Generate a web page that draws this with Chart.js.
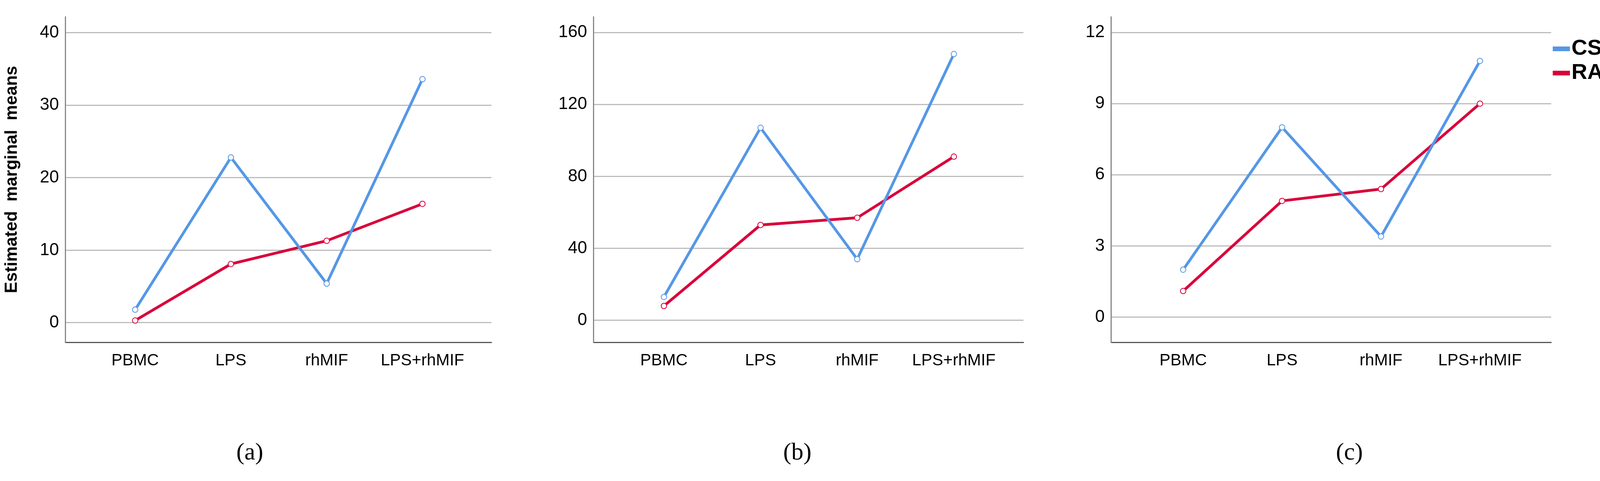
<!DOCTYPE html>
<html>
<head>
<meta charset="utf-8">
<script src="https://cdn.jsdelivr.net/npm/chart.js@4"></script>
<style>
  body { margin:0; width:4128px; height:1231px; background:#fff; position:relative; overflow:hidden; font-family:"Liberation Sans", Arial, sans-serif; }
  .box { position:absolute; top:0; height:1000px; }
  .cap { position:absolute; top:1120px; font-family:"Liberation Serif", serif; font-size:62px; color:#000; }
  .leg { position:absolute; left:3975px; font-size:56px; font-weight:bold; font-family:"Liberation Sans Narrow","Liberation Sans",sans-serif; }
  .leg span { display:inline-block; width:44px; height:12px; vertical-align:middle; margin-right:4px; }
</style>
</head>
<body>
<div class="box" style="left:0;width:1275px"><canvas id="ga"></canvas></div>
<div class="box" style="left:1399px;width:1238px"><canvas id="gb"></canvas></div>
<div class="box" style="left:2724px;width:1264px"><canvas id="gc"></canvas></div>
<div class="cap" style="left:605px">(a)</div>
<div class="cap" style="left:2005px">(b)</div>
<div class="cap" style="left:3420px">(c)</div>
<div class="leg" style="top:88px"><span style="background:#5597e6"></span>CS</div>
<div class="leg" style="top:150px"><span style="background:#d9003a"></span>RA</div>
<script>
// datos
const categorias = ['PBMC', 'LPS', 'rhMIF', 'LPS+rhMIF'];
const csA = [1.8, 22.8, 5.4, 33.6];
const raA = [0.3, 8.1, 11.3, 16.4];
const csB = [13, 107, 34, 148];
const raB = [8, 53, 57, 91];
const csC = [2.0, 8.0, 3.4, 10.8];
const raC = [1.1, 4.9, 5.4, 9.0];

const azul = '#5597e6';
const rojo = '#d9003a';

function puntos(vals) {
    return vals.map((v, i) => ({ x: i, y: v }));
}

function grafica(id, cs, ra, yMin, yMax, paso, ejeAncho, titulo) {
    const ctx = document.getElementById(id).getContext('2d');
    const serie = (label, vals, color) => ({
        label: label,
        data: puntos(vals),
        borderColor: color,
        backgroundColor: '#fff',
        borderWidth: 7,
        pointRadius: 7,
        pointBorderWidth: 2,
        tension: 0
    });
    new Chart(ctx, {
        type: 'line',
        data: { datasets: [serie('CS', cs, azul), serie('RA', ra, rojo)] },
        options: {
            responsive: true,
            maintainAspectRatio: false,
            animation: false,
            layout: { padding: { top: 43, right: 17 } },
            plugins: { legend: { display: false }, tooltip: { enabled: false } },
            scales: {
                x: {
                    type: 'linear', min: -0.73, max: 3.72,
                    afterBuildTicks: s => { s.ticks = categorias.map((c, i) => ({ value: i })); },
                    afterFit: s => { s.height = 124; },
                    ticks: { callback: v => categorias[v], color: '#000', padding: 14,
                             font: { size: 42, family: "'Liberation Sans', sans-serif" } },
                    grid: { display: false },
                    border: { color: '#555', width: 3 }
                },
                y: {
                    min: yMin, max: yMax,
                    afterBuildTicks: s => {
                        const t = [];
                        for (let v = 0; v <= yMax; v += paso) t.push({ value: v });
                        s.ticks = t;
                    },
                    afterFit: s => { s.width = ejeAncho; },
                    ticks: { color: '#000', padding: 16,
                             font: { size: 44, family: "'Liberation Sans', sans-serif" } },
                    grid: { color: '#bdbdbd', lineWidth: 3, drawTicks: false },
                    border: { color: '#888', width: 3 },
                    title: { display: !!titulo, text: titulo, color: '#000', padding: 4,
                             font: { size: 44, weight: 'bold', family: "'Liberation Sans', sans-serif" } }
                }
            }
        }
    });
}

document.addEventListener('DOMContentLoaded', () => {
    try {
        grafica('ga', csA, raA, -2.7, 42.2, 10, 167, 'Estimated  marginal  means');
        grafica('gb', csB, raB, -12.2, 168.7, 40, 120, '');
        grafica('gc', csC, raC, -1.06, 12.66, 3, 120, '');
    } catch (e) {
        console.error('Error al crear las gráficas:', e);
    }
});
</script>
</body>
</html>
